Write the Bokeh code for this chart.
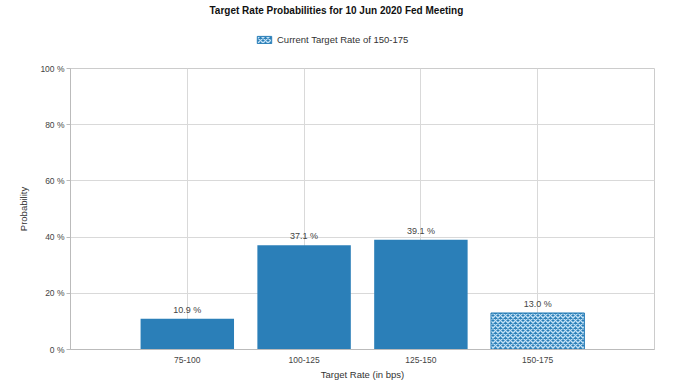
from bokeh.plotting import figure
from bokeh.layouts import column
from bokeh.models import (ColumnDataSource, FactorRange, Range1d, FixedTicker,
                          PrintfTickFormatter, Legend, LegendItem, LabelSet, Title)
from bokeh.core.properties import value
from bokeh.embed import file_html
from bokeh.resources import INLINE

# ---- data ----
categories = ["75-100", "100-125", "125-150", "150-175"]
probabilities = [10.9, 37.1, 39.1, 13.0]
labels = ["10.9 %", "37.1 %", "39.1 %", "13.0 %"]
current_rate = "150-175"
y_ticks = [0, 20, 40, 60, 80, 100]
title_text = "Target Rate Probabilities for 10 Jun 2020 Fed Meeting"
legend_text = "Current Target Rate of 150-175"

FONT = "Liberation Sans"
BLUE = "#2b7fb8"
HATCH = dict(hatch_pattern="diagonal_cross", hatch_color="#c4e2f6",
             hatch_scale=5, hatch_weight=1.4)

src_main = ColumnDataSource(dict(
    x=[c for c in categories if c != current_rate],
    top=[p for c, p in zip(categories, probabilities) if c != current_rate],
))
src_cur = ColumnDataSource(dict(
    x=[c for c in categories if c == current_rate],
    top=[p for c, p in zip(categories, probabilities) if c == current_rate],
))
src_lbl = ColumnDataSource(dict(x=categories, y=probabilities, t=labels))

# ---- header figure: title + legend (its bar lies outside its view) ----
head = figure(width=680, height=60, output_backend="svg", toolbar_location=None,
              title=None, x_axis_type=None, y_axis_type=None,
              x_range=FactorRange(factors=categories),
              y_range=Range1d(1000, 1001),
              min_border_left=70, min_border_right=26,
              min_border_top=0, min_border_bottom=0)
head.grid.visible = False
head.outline_line_color = None
swatch = head.vbar(x="x", top="top", width=0.8, source=src_cur,
                   fill_color=BLUE, line_color=BLUE, **HATCH)
t = Title(text=title_text, align="left", offset=139, text_font=FONT,
          text_font_size="10px", text_font_style="bold", text_color="#111111",
          standoff=4)
head.add_layout(t, "above")
legend = Legend(items=[LegendItem(label=legend_text, renderers=[swatch])],
                orientation="horizontal", location=(185, 15),
                label_text_font=FONT, label_text_font_size="9.5px",
                label_text_color="#333333", border_line_color=None,
                background_fill_alpha=0, glyph_width=18, glyph_height=9,
                label_height=10, label_standoff=4, padding=4, margin=0)
head.add_layout(legend)

# ---- main chart ----
p = figure(width=680, height=328, output_backend="svg", toolbar_location=None,
           title=None,
           x_range=FactorRange(factors=categories, range_padding=0.25,
                               range_padding_units="percent"),
           y_range=Range1d(0, 100),
           min_border_left=70, min_border_right=26, min_border_bottom=39,
           min_border_top=8)

p.outline_line_color = "#cccccc"
p.outline_line_width = 1

p.vbar(x="x", top="top", width=0.8, source=src_main, fill_color=BLUE,
       line_color=None)
p.vbar(x="x", top="top", width=0.8, source=src_cur, fill_color=BLUE,
       line_color=BLUE, **HATCH)

lbl = LabelSet(x="x", y="y", text="t", source=src_lbl, y_offset=4,
               text_align="center", text_baseline="bottom",
               text_font_size=value("9px"), text_font=value(FONT),
               text_color=value("#444444"))
p.add_layout(lbl)

p.yaxis.ticker = FixedTicker(ticks=y_ticks)
p.yaxis.formatter = PrintfTickFormatter(format="%d %%")
p.yaxis.axis_label = "Probability"
p.xaxis.axis_label = "Target Rate (in bps)"
for ax in (p.xaxis, p.yaxis):
    ax.axis_label_text_font = FONT
    ax.axis_label_text_font_size = "9.5px"
    ax.axis_label_text_font_style = "normal"
    ax.axis_label_text_color = "#333333"
    ax.major_label_text_font = FONT
    ax.major_label_text_font_size = "8.5px"
    ax.major_label_text_color = "#444444"
    ax.axis_line_color = "#bbbbbb"
    ax.major_tick_line_color = "#bbbbbb"
    ax.major_tick_in = 0
    ax.minor_tick_line_color = None
p.yaxis.major_tick_out = 4
p.yaxis.major_label_standoff = 2
p.yaxis.axis_label_standoff = 8
p.xaxis.major_tick_out = 0
p.xaxis.major_label_standoff = 7
p.xaxis.axis_label_standoff = 3
p.xaxis.major_tick_line_color = None

p.grid.grid_line_color = "#d9d9d9"
p.grid.grid_line_width = 1

layout = column(head, p, spacing=0)
open("out.html", "w").write(file_html(layout, INLINE))
